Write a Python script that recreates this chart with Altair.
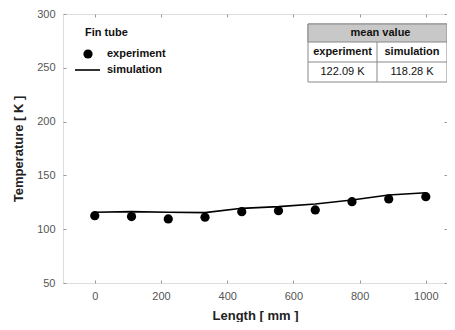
import altair as alt
import pandas as pd

# ---- data ----
length_mm = [0, 111, 222, 333, 444, 555, 666, 777, 888, 1000]
exp_temp = [112.6, 111.7, 109.5, 111.1, 116.3, 117.2, 117.9, 125.6, 128.1, 130.2]
sim_temp = [115.7, 116.3, 115.7, 115.4, 119.4, 121.0, 123.4, 127.1, 131.8, 133.9]

x_ticks = [0, 200, 400, 600, 800, 1000]
y_ticks = [50, 100, 150, 200, 250, 300]

legend_title = "Fin tube"
series_names = ["experiment", "simulation"]
table_header = "mean value"
table_cols = ["experiment", "simulation"]
table_vals = ["122.09 K", "118.28 K"]

FONT = "Liberation Sans"
W, H = 384, 269

exp_df = pd.DataFrame({"length": length_mm, "temp": exp_temp})
sim_df = pd.DataFrame({"length": length_mm, "temp": sim_temp})

xs = alt.Scale(domain=[-96, 1064], nice=False)
ys = alt.Scale(domain=[50, 300], nice=False)

ax_common = dict(grid=False, domain=False, tickColor="#999", tickSize=3, offset=-3,
                 labelFont=FONT, labelFontSize=11, labelColor="#555",
                 titleFont=FONT, titleFontSize=13, titleFontWeight="bold", titleColor="#222")

x_bottom = alt.Axis(values=x_ticks, orient="bottom", format="d", title="Length [ mm ]",
                    labelPadding=7, titlePadding=8, **ax_common)
y_left = alt.Axis(values=y_ticks, orient="left", format="d", title="Temperature [ K ]",
                  labelPadding=8, titlePadding=11, **ax_common)
x_top = alt.Axis(values=x_ticks, orient="top", labels=False, title=None, grid=False, domain=False,
                 tickColor="#999", tickSize=3, offset=-3)
y_right = alt.Axis(values=y_ticks, orient="right", labels=False, title=None, grid=False, domain=False,
                   tickColor="#999", tickSize=3, offset=-3)

line = alt.Chart(sim_df).mark_line(color="black", strokeWidth=1.6).encode(
    x=alt.X("length:Q", scale=xs, axis=x_bottom),
    y=alt.Y("temp:Q", scale=ys, axis=y_left),
)
pts = alt.Chart(exp_df).mark_point(filled=True, shape="circle", size=85, color="black", opacity=1).encode(
    x=alt.X("length:Q", scale=xs, axis=x_top),
    y=alt.Y("temp:Q", scale=ys, axis=y_right),
)

def txt(s, x, y, bold=True, align="left", size=11):
    return alt.Chart(pd.DataFrame({"t": [s]})).mark_text(
        font=FONT, fontSize=size, fontWeight="bold" if bold else "normal",
        align=align, baseline="middle", color="#111"
    ).encode(text="t:N", x=alt.value(x), y=alt.value(y))

# legend
leg = [
    txt(legend_title, 22, 19, size=11),
    alt.Chart(pd.DataFrame({"t": [series_names[0]]})).mark_point(
        filled=True, shape="circle", size=85, color="black", opacity=1
    ).encode(x=alt.value(25), y=alt.value(40)),
    txt(series_names[0], 44, 40),
    alt.Chart(pd.DataFrame({"t": [series_names[1]]})).mark_rule(color="black", strokeWidth=1.6).encode(
        x=alt.value(12), x2=alt.value(37), y=alt.value(56)),
    txt(series_names[1], 44, 56),
]

# table
tx0, tx1, tmid = 245, 384, 314
ty0, ty1, ty2, ty3 = 10, 28, 48, 68
tab = [
    alt.Chart(pd.DataFrame({"t": [0]})).mark_rect(fill="white", stroke="#888", strokeWidth=1).encode(
        x=alt.value(tx0), x2=alt.value(tx1), y=alt.value(ty0), y2=alt.value(ty3)),
    alt.Chart(pd.DataFrame({"t": [0]})).mark_rect(fill="#c8c8c8", stroke="#888", strokeWidth=1).encode(
        x=alt.value(tx0), x2=alt.value(tx1), y=alt.value(ty0), y2=alt.value(ty1)),
    alt.Chart(pd.DataFrame({"t": [0]})).mark_rule(color="#888", strokeWidth=1).encode(
        x=alt.value(tx0), x2=alt.value(tx1), y=alt.value(ty2)),
    alt.Chart(pd.DataFrame({"t": [0]})).mark_rule(color="#888", strokeWidth=1).encode(
        x=alt.value(tmid), y=alt.value(ty1), y2=alt.value(ty3)),
    txt(table_header, (tx0 + 390) / 2, (ty0 + ty1) / 2, align="center"),
    txt(table_cols[0], (tx0 + tmid) / 2, (ty1 + ty2) / 2, align="center"),
    txt(table_cols[1], (tmid + tx1) / 2, (ty1 + ty2) / 2, align="center"),
    txt(table_vals[0], (tx0 + tmid) / 2, (ty2 + ty3) / 2, bold=False, align="center"),
    txt(table_vals[1], (tmid + tx1) / 2, (ty2 + ty3) / 2, bold=False, align="center"),
]

chart = alt.layer(line, pts, *leg, *tab).resolve_axis(x="independent", y="independent").properties(
    width=W, height=H, autosize="none",
    padding={"left": 55, "top": 6, "right": 0, "bottom": 39},
).configure_view(stroke="#999", strokeWidth=1).configure(background="white")

chart.save("out.html", embed_options={"renderer": "svg", "actions": False})
